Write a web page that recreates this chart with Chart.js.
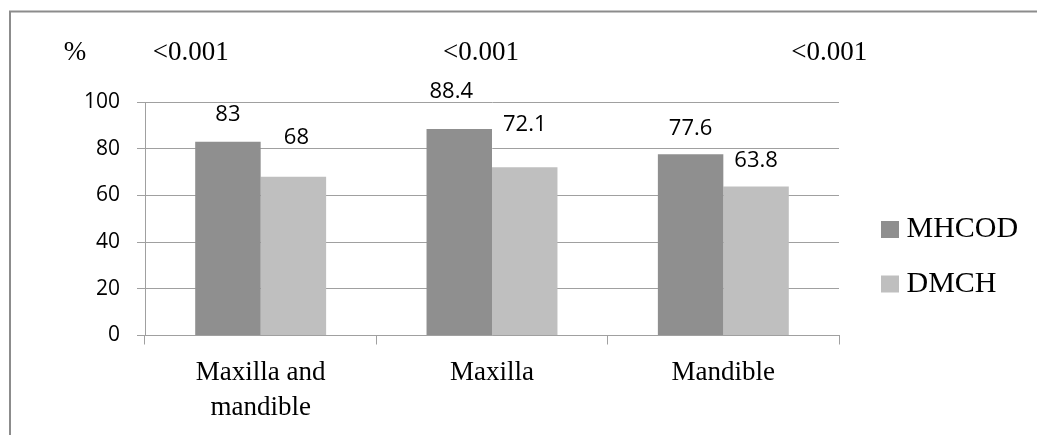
<!DOCTYPE html>
<html>
<head>
<meta charset="utf-8">
<script src="https://cdn.jsdelivr.net/npm/chart.js@4.4.1/dist/chart.umd.min.js"></script>
<style>
  html, body { margin: 0; padding: 0; background: #fff; }
</style>
</head>
<body>
<canvas id="myChart" width="1037" height="435"></canvas>
<script>
'use strict';
// =============== data ===============
const sites = [['Maxilla and', 'mandible'], 'Maxilla', 'Mandible'];
const mhcod = [83, 88.4, 77.6];
const dmch = [68, 72.1, 63.8];
const pValues = ['<0.001', '<0.001', '<0.001'];
const yTicks = [0, 20, 40, 60, 80, 100];

// =============== look ===============
const darkGray = '#8f8f8f';
const lightGray = '#bfbfbf';
const lineGray = '#a0a0a0';
const serif = 'Liberation Serif';

// label nudges [dx, dy] per dataset, dy = distance above bar top
const labelShift = [
    [[0, 27], [-8, 37], [0, 26]],
    [[3, 38.5], [0, 42], [0, 25.5]]
];
// p-value text sits off the category centres
const pShift = [-70, -11, 106];

// =============== extras: frame, p-values, value labels, legend ===============
const extras = {
    id: 'extras',
    afterDraw(chart) {
        const ctx = chart.ctx;
        const x = chart.scales.x;
        ctx.save();

        // frame (top and left edges)
        ctx.strokeStyle = '#8c8c8c';
        ctx.lineWidth = 2;
        ctx.beginPath();
        ctx.moveTo(10, 435);
        ctx.lineTo(10, 11.5);
        ctx.lineTo(1037, 11.5);
        ctx.stroke();

        // unit and p-values
        ctx.fillStyle = '#000';
        ctx.font = '27px "' + serif + '"';
        ctx.textAlign = 'center';
        ctx.textBaseline = 'middle';
        ctx.fillText('%', chart.chartArea.left - 70, 53);
        pValues.forEach((p, i) => {
            ctx.fillText(p, x.getPixelForValue(i) + pShift[i], 53);
        });

        // value labels on the bars
        ctx.font = '22px "Open Sans"';
        chart.data.datasets.forEach((ds, d) => {
            chart.getDatasetMeta(d).data.forEach((bar, i) => {
                const s = labelShift[d][i];
                ctx.fillText(String(ds.data[i]), bar.x + s[0], bar.y - s[1]);
            });
        });

        // legend
        ctx.textAlign = 'left';
        ctx.font = '30px "' + serif + '"';
        chart.data.datasets.forEach((ds, d) => {
            const y = 229.5 + d * 54.5;
            ctx.fillStyle = ds.backgroundColor;
            ctx.fillRect(881, y - 8.5, 18, 17);
            ctx.fillStyle = '#000';
            ctx.fillText(ds.label, 906.5, y);
        });

        ctx.restore();
    }
};

// =============== chart ===============
let myChart = document.getElementById('myChart').getContext('2d');

let BarChart = new Chart(myChart, {
    type: 'bar',
    data: {
        labels: sites,
        datasets: [{
            label: 'MHCOD',
            data: mhcod,
            backgroundColor: darkGray
        }, {
            label: 'DMCH',
            data: dmch,
            backgroundColor: lightGray
        }]
    },
    options: {
        responsive: false,
        animation: false,
        devicePixelRatio: 1,
        categoryPercentage: 0.566,
        barPercentage: 1,
        layout: {
            padding: { top: 102, right: 198, bottom: 0, left: 0 }
        },
        plugins: {
            legend: { display: false },
            tooltip: { enabled: false }
        },
        scales: {
            x: {
                offset: true,
                grid: {
                    offset: true,
                    drawOnChartArea: false,
                    drawTicks: true,
                    tickLength: 9,
                    color: lineGray
                },
                border: { color: lineGray },
                ticks: {
                    color: '#000',
                    font: { family: serif, size: 27, lineHeight: 1.3 },
                    padding: 11,
                    maxRotation: 0,
                    autoSkip: false
                },
                afterFit: (s) => { s.height = 99.5; }
            },
            y: {
                min: 0,
                max: 100,
                afterBuildTicks: (s) => { s.ticks = yTicks.map(v => ({ value: v })); },
                grid: { color: lineGray, tickLength: 8 },
                border: { color: lineGray },
                ticks: {
                    color: '#000',
                    font: { family: 'Open Sans', size: 21 },
                    padding: 17
                },
                afterFit: (s) => { s.width = 145; }
            }
        }
    },
    plugins: [extras]
});
</script>
</body>
</html>
